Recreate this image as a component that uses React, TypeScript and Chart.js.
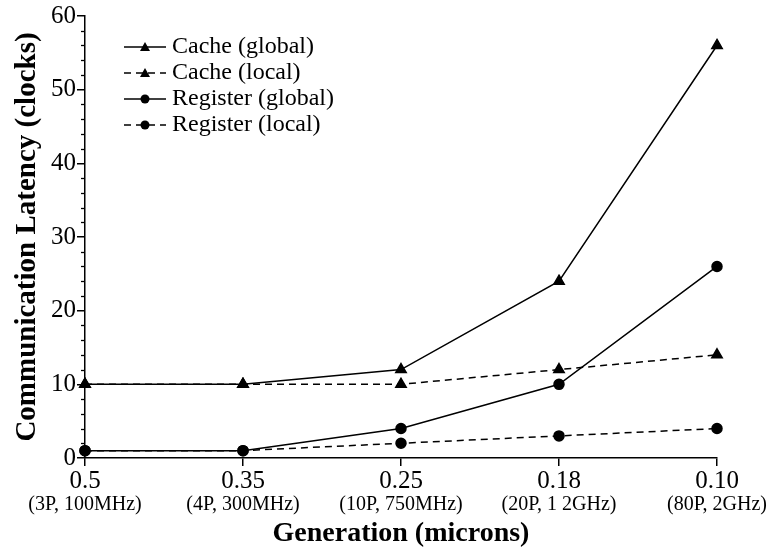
import React, { useEffect, useRef } from "react";
import { Chart, registerables } from "chart.js";

Chart.register(...registerables);

const generations = ["0.5", "0.35", "0.25", "0.18", "0.10"];
const configurations = ["(3P, 100MHz)", "(4P, 300MHz)", "(10P, 750MHz)", "(20P, 1 2GHz)", "(80P, 2GHz)"];
const cacheGlobal = [10, 10, 12, 24, 56];
const cacheLocal = [10, 10, 10, 12, 14];
const registerGlobal = [1, 1, 4, 10, 26];
const registerLocal = [1, 1, 2, 3, 4];
const yTicks = [0, 10, 20, 30, 40, 50, 60];

const FONT = "'Liberation Serif', 'Times New Roman', serif";

const minorTicks = {
  id: "minorTicks",
  afterDraw(chart: any) {
    const y = chart.scales.y;
    const ctx = chart.ctx;
    ctx.save();
    ctx.strokeStyle = "#000";
    ctx.lineWidth = 1.3;
    for (let v = 0; v <= 60; v += 2) {
      if (v % 10 === 0) continue;
      const py = Math.round(y.getPixelForValue(v)) + 0.5;
      ctx.beginPath();
      ctx.moveTo(y.right - 4, py);
      ctx.lineTo(y.right, py);
      ctx.stroke();
    }
    ctx.restore();
  },
};

const insideLegend = {
  id: "insideLegend",
  afterDraw(chart: any) {
    const ctx = chart.ctx;
    const x0 = 124;
    const x1 = 166;
    const tx = 172;
    const rows = [47, 73, 99, 125];
    ctx.save();
    chart.data.datasets.forEach((ds: any, i: number) => {
      const yy = rows[i];
      ctx.strokeStyle = "#000";
      ctx.lineWidth = 1.5;
      ctx.setLineDash(ds.borderDash || []);
      ctx.beginPath();
      ctx.moveTo(x0, yy);
      ctx.lineTo(x1, yy);
      ctx.stroke();
      ctx.setLineDash([]);
      ctx.fillStyle = "#000";
      const cx = (x0 + x1) / 2;
      if (ds.pointStyle === "triangle") {
        ctx.beginPath();
        ctx.moveTo(cx, yy - 5);
        ctx.lineTo(cx + 5, yy + 4);
        ctx.lineTo(cx - 5, yy + 4);
        ctx.closePath();
        ctx.fill();
      } else {
        ctx.beginPath();
        ctx.arc(cx, yy, 4.5, 0, Math.PI * 2);
        ctx.fill();
      }
      ctx.font = `24px ${FONT}`;
      ctx.textBaseline = "middle";
      ctx.textAlign = "left";
      ctx.fillText(ds.label, tx, yy);
    });
    ctx.restore();
  },
};

export default function App() {
  const ref = useRef<HTMLCanvasElement>(null);

  useEffect(() => {
    document.body.style.margin = "0";
    const ctx = ref.current!.getContext("2d")!;
    const mk = (label: string, data: number[], style: string, dashed: boolean) => ({
      label,
      data,
      borderColor: "#000",
      backgroundColor: "#000",
      borderWidth: 1.5,
      borderDash: dashed ? [7, 5] : [],
      pointStyle: style,
      pointRadius: style === "triangle" ? 6 : 5,
      pointBackgroundColor: "#000",
      pointBorderColor: "#000",
      tension: 0,
      xAxisID: "x",
    });
    const chart = new Chart(ctx, {
      type: "line",
      data: {
        labels: generations,
        datasets: [
          mk("Cache (global)", cacheGlobal, "triangle", false),
          mk("Cache (local)", cacheLocal, "triangle", true),
          mk("Register (global)", registerGlobal, "circle", false),
          mk("Register (local)", registerLocal, "circle", true),
        ],
      },
      options: {
        animation: false,
        responsive: false,
        layout: { padding: { top: 15, right: 0, left: 0, bottom: 0 } },
        plugins: { legend: { display: false }, tooltip: { enabled: false } },
        scales: {
          x: {
            type: "category",
            offset: false,
            position: "bottom",
            grid: { display: true, drawOnChartArea: false, drawTicks: true, tickLength: 8, color: "#000", lineWidth: 1.5 },
            border: { display: true, color: "#000", width: 1.5 },
            ticks: { color: "#000", font: { family: FONT, size: 25 }, padding: 0, maxRotation: 0, autoSkip: false },
            afterFit: (s: any) => { s.height = 34; },
          },
          x2: {
            type: "category",
            labels: configurations,
            offset: false,
            position: "bottom",
            grid: { display: false, drawTicks: false },
            border: { display: false },
            ticks: { color: "#000", font: { family: FONT, size: 20 }, padding: 1, maxRotation: 0, autoSkip: false },
            title: { display: true, text: "Generation (microns)", color: "#000", font: { family: FONT, size: 28, weight: "bold" }, padding: { top: 0, bottom: -3 } },
            afterFit: (s: any) => { s.height = 56; },
          },
          y: {
            type: "linear",
            min: 0,
            max: 60,
            afterBuildTicks: (s: any) => { s.ticks = yTicks.map((v) => ({ value: v })); },
            grid: { display: true, drawOnChartArea: false, drawTicks: true, tickLength: 8, color: "#000", lineWidth: 1.5 },
            border: { display: true, color: "#000", width: 1.5 },
            ticks: { color: "#000", font: { family: FONT, size: 25 }, padding: 1 },
            title: { display: true, text: "Communication Latency (clocks)", color: "#000", font: { family: FONT, size: 29, weight: "bold" }, padding: { top: 10, bottom: 0 } },
            afterFit: (s: any) => { s.width = 85; },
          },
        },
      },
      plugins: [minorTicks, insideLegend],
    } as any);
    return () => chart.destroy();
  }, []);

  return (
    <div style={{ width: 768, height: 548 }}>
      <canvas ref={ref} width={768} height={548} style={{ display: "block" }} />
    </div>
  );
}
